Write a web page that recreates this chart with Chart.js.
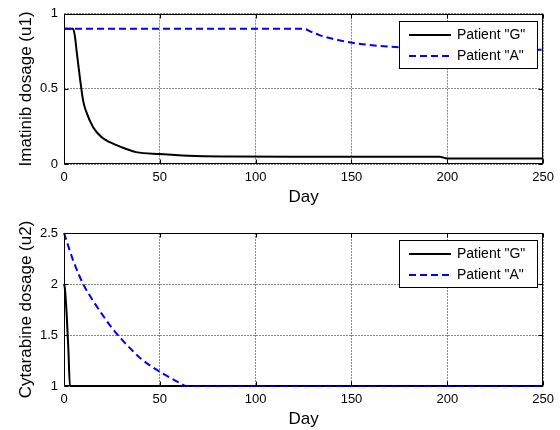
<!DOCTYPE html>
<html>
<head>
<meta charset="utf-8">
<script src="https://cdn.jsdelivr.net/npm/chart.js@4.4.1/dist/chart.umd.min.js"></script>
<style>
  body { margin: 0; background: #fff; }
  #wrap { position: relative; width: 560px; height: 430px; background: #fff; }
  canvas { position: absolute; left: 0; }
</style>
</head>
<body>
<div id="wrap">
  <canvas id="imatinibChart" width="560" height="208" style="top:0"></canvas>
  <canvas id="cytarabineChart" width="560" height="222" style="top:208px"></canvas>
</div>
<script>
// Imatinib dosage u1 over the treatment period
const imatinibDaysG = [0, 4.7, 5.7, 6.6, 8.3, 10, 11.4, 15.2, 19.5, 23.9, 29.9, 37.7, 49.8, 65, 87.7, 120, 196, 200, 250];
const imatinibG = [0.9, 0.9, 0.85, 0.75, 0.574, 0.42, 0.355, 0.245, 0.18, 0.145, 0.112, 0.079, 0.066, 0.055, 0.05, 0.048, 0.048, 0.037, 0.037];
const imatinibDaysA = [0, 125, 129, 133, 138, 143, 149, 156, 164, 170, 176, 200, 225, 250];
const imatinibA = [0.9, 0.9, 0.88, 0.86, 0.84, 0.825, 0.81, 0.797, 0.787, 0.781, 0.776, 0.768, 0.763, 0.761];

// Cytarabine dosage u2
const cytarabineDaysG = [0, 0.5, 1.4, 2.3, 3.1, 250];
const cytarabineG = [2.0, 1.95, 1.7, 1.35, 1.0, 1.0];
const cytarabineDaysA = [0, 5, 10, 15, 20, 25, 30, 35, 40, 45, 50, 55, 60, 64, 250];
const cytarabineA = [2.5, 2.22, 2.0, 1.84, 1.7, 1.57, 1.46, 1.36, 1.27, 1.2, 1.14, 1.085, 1.035, 1.0, 1.0];

const patientLabels = ['Patient "G"', 'Patient "A"'];
const dayTicks = [0, 50, 100, 150, 200, 250];
const imatinibTicks = [0, 0.5, 1];
const cytarabineTicks = [1, 1.5, 2, 2.5];

const FONT = 'Liberation Sans, Arial, sans-serif';

function toPoints(xs, ys) {
  return xs.map((x, i) => ({ x: x, y: ys[i] }));
}

// box around the axes, inward tick marks and the boxed legend in the top right
const axesBox = {
  id: 'axesBox',
  afterDatasetsDraw(chart) {
    const { ctx, chartArea: a, scales } = chart;
    const L = Math.round(a.left) + 0.5, R = Math.round(a.right) - 0.5;
    const T = Math.round(a.top) + 0.5, B = Math.round(a.bottom) - 0.5;
    ctx.save();
    ctx.strokeStyle = '#000';
    ctx.lineWidth = 1;
    ctx.setLineDash([]);
    ctx.strokeRect(L, T, R - L, B - T);
    const tl = 4;
    ctx.beginPath();
    scales.x.ticks.forEach(t => {
      const px = Math.round(scales.x.getPixelForValue(t.value)) + 0.5;
      ctx.moveTo(px, B); ctx.lineTo(px, B - tl);
      ctx.moveTo(px, T); ctx.lineTo(px, T + tl);
    });
    scales.y.ticks.forEach(t => {
      const py = Math.round(scales.y.getPixelForValue(t.value)) + 0.5;
      ctx.moveTo(L, py); ctx.lineTo(L + tl, py);
      ctx.moveTo(R, py); ctx.lineTo(R - tl, py);
    });
    ctx.stroke();

    // legend
    const bw = 138, bh = 47;
    const bx = Math.round(a.right) - 6 - bw, by = Math.round(a.top) + 7;
    ctx.fillStyle = '#fff';
    ctx.fillRect(bx, by, bw, bh);
    ctx.strokeRect(bx + 0.5, by + 0.5, bw, bh);
    ctx.font = '14px ' + FONT;
    ctx.textBaseline = 'middle';
    chart.data.datasets.forEach((ds, i) => {
      const cy = by + 14 + i * 21;
      ctx.strokeStyle = ds.borderColor;
      ctx.lineWidth = ds.borderWidth;
      ctx.setLineDash(ds.borderDash || []);
      ctx.beginPath();
      ctx.moveTo(bx + 10, cy);
      ctx.lineTo(bx + 52, cy);
      ctx.stroke();
      ctx.fillStyle = '#000';
      ctx.fillText(ds.label, bx + 58, cy);
    });
    ctx.restore();
  }
};

function makeChart(id, gPoints, aPoints, yTicks, yTitle, topPad) {
  return new Chart(document.getElementById(id), {
    type: 'line',
    data: {
      datasets: [{
        label: patientLabels[0],
        data: gPoints,
        borderColor: '#000000',
        borderWidth: 2,
        clip: 4,
        order: 1
      }, {
        label: patientLabels[1],
        data: aPoints,
        borderColor: '#0000ff',
        borderWidth: 2,
        borderDash: [7, 4],
        clip: 4,
        order: 0
      }]
    },
    options: {
      responsive: false,
      animation: false,
      devicePixelRatio: 1,
      parsing: false,
      layout: { padding: { top: topPad, right: 14, left: 0, bottom: 0 } },
      elements: {
        point: { radius: 0 },
        line: { cubicInterpolationMode: 'monotone', fill: false }
      },
      plugins: {
        legend: { display: false },
        tooltip: { enabled: false }
      },
      scales: {
        x: {
          type: 'linear',
          min: 0,
          max: 250,
          afterBuildTicks: s => { s.ticks = dayTicks.map(v => ({ value: v })); },
          afterFit: s => { s.height = 44; },
          ticks: {
            padding: 6,
            color: '#000',
            font: { family: FONT, size: 13 },
            callback: v => String(v),
            maxRotation: 0
          },
          grid: { color: '#888888', drawTicks: false },
          border: { display: false, dash: [2, 1] },
          title: {
            display: true,
            text: 'Day',
            color: '#000',
            font: { family: FONT, size: 17 },
            padding: 0
          }
        },
        y: {
          min: yTicks[0],
          max: yTicks[yTicks.length - 1],
          afterBuildTicks: s => { s.ticks = yTicks.map(v => ({ value: v })); },
          afterFit: s => { s.width = 64; },
          ticks: {
            padding: 6,
            color: '#000',
            font: { family: FONT, size: 13 },
            callback: v => String(v)
          },
          grid: { color: '#888888', drawTicks: false },
          border: { display: false, dash: [2, 1] },
          title: {
            display: true,
            text: yTitle,
            color: '#000',
            font: { family: FONT, size: 17 },
            padding: { top: 16, bottom: 0 }
          }
        }
      }
    },
    plugins: [axesBox]
  });
}

makeChart('imatinibChart',
  toPoints(imatinibDaysG, imatinibG),
  toPoints(imatinibDaysA, imatinibA),
  imatinibTicks, 'Imatinib dosage (u1)', 12);

makeChart('cytarabineChart',
  toPoints(cytarabineDaysG, cytarabineG),
  toPoints(cytarabineDaysA, cytarabineA),
  cytarabineTicks, 'Cytarabine dosage (u2)', 25);
</script>
</body>
</html>
